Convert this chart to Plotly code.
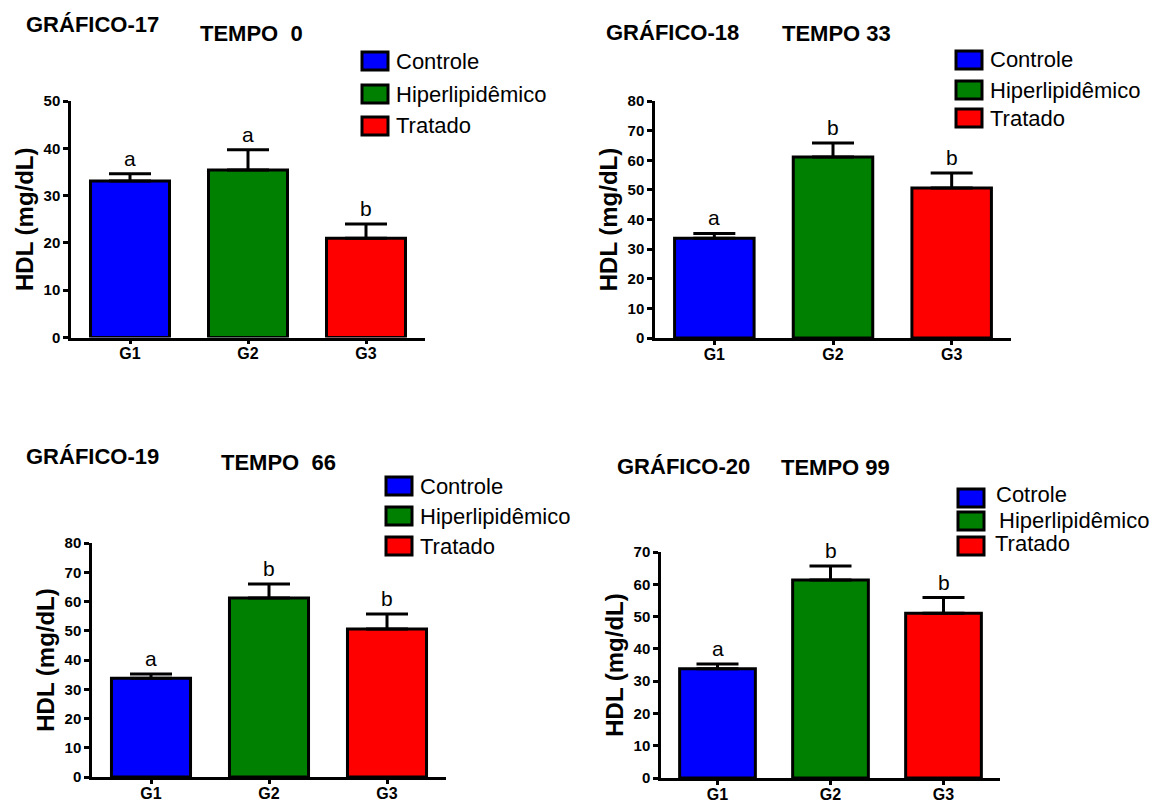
import plotly.graph_objects as go

# ---------------- data ----------------
groups = ["G1", "G2", "G3"]
legend_labels = ["Controle", "Hiperlipidêmico", "Tratado"]
legend_labels_t99 = ["Cotrole", "Hiperlipidêmico", "Tratado"]
bar_colors = ["#0000FF", "#008000", "#FF0000"]

graph_ids = ["GRÁFICO-17", "GRÁFICO-18", "GRÁFICO-19", "GRÁFICO-20"]
tempo_titles = ["TEMPO  0", "TEMPO 33", "TEMPO  66", "TEMPO 99"]

hdl_t0 = [33.1, 35.4, 21.0]
sem_t0 = [1.5, 4.3, 3.0]
letters_t0 = ["a", "a", "b"]

hdl_t33 = [33.7, 61.1, 50.6]
sem_t33 = [1.6, 4.7, 5.1]
letters_t33 = ["a", "b", "b"]

hdl_t66 = [33.8, 61.2, 50.6]
sem_t66 = [1.4, 4.8, 5.1]
letters_t66 = ["a", "b", "b"]

hdl_t99 = [33.8, 61.3, 51.0]
sem_t99 = [1.5, 4.4, 4.9]
letters_t99 = ["a", "b", "b"]

y_max = [50, 80, 80, 70]
y_title = "HDL (mg/dL)"

# ---------------- layout helpers ----------------
W, H = 1153, 803
FONT = "Liberation Sans, Arial, sans-serif"


def px(x):
    return x / W


def py(y):
    return 1 - y / H


values = [hdl_t0, hdl_t33, hdl_t66, hdl_t99]
sems = [sem_t0, sem_t33, sem_t66, sem_t99]
letters = [letters_t0, letters_t33, letters_t66, letters_t99]
legends = [legend_labels, legend_labels, legend_labels, legend_labels_t99]

# axis boxes in pixels: (x0, x1, ytop, ybottom)
boxes = [(71, 425, 101, 337.5), (655, 1011, 101, 338), (92, 446, 543, 777), (661, 1000, 552, 778)]
# title positions (x_left, y_center)
gid_pos = [(24, 24), (604, 32), (24, 456), (615, 466)]
tempo_pos = [(198, 34), (780, 34), (219, 462), (779, 467)]
# legend: box left x, box centers y, text x, text centers y
leg_box_x = [362, 956, 386, 958]
leg_box_y = [[61, 94, 126], [60, 90, 118], [486, 516, 546], [498, 521, 546]]
leg_txt_x = [[394, 394, 394], [988, 988, 988], [418, 418, 418], [994, 997, 993]]
leg_txt_y = [[62, 94, 126], [60, 90, 118], [486, 516, 546], [494, 520, 543]]

fig = go.Figure()
layout = dict(
    width=W, height=H, margin=dict(l=0, r=0, t=0, b=0),
    paper_bgcolor="white", plot_bgcolor="white",
    font=dict(family=FONT, color="black"),
    showlegend=False, barmode="overlay",
)
annotations = []
shapes = []

for i in range(4):
    n = "" if i == 0 else str(i + 1)
    xa, ya = "x" + n, "y" + n
    x0, x1, yt, yb = boxes[i]
    fig.add_trace(go.Bar(
        x=groups, y=values[i], xaxis=xa, yaxis=ya,
        width=0.67,
        marker=dict(color=bar_colors, line=dict(color="black", width=3)),
        error_y=dict(type="data", array=sems[i], arrayminus=[0, 0, 0], symmetric=False,
                     color="black", thickness=3, width=21),
        name=tempo_titles[i], showlegend=False,
    ))
    layout["xaxis" + n] = dict(
        domain=[px(x0), px(x1)], anchor=ya, range=[-0.5, 2.5],
        showline=True, linecolor="black", linewidth=2.5,
        ticks="outside", ticklen=4, tickwidth=2.5, tickcolor="black",
        ticklabelstandoff=-4,
        tickfont=dict(family=FONT, size=16, color="black", weight="bold"),
        showgrid=False, zeroline=False, automargin=False, fixedrange=True,
    )
    layout["yaxis" + n] = dict(
        domain=[py(yb), py(yt)], anchor=xa, range=[0, y_max[i]], dtick=10, tick0=0,
        showline=True, linecolor="black", linewidth=2.5,
        ticks="outside", ticklen=5, tickwidth=2.5, tickcolor="black",
        tickfont=dict(family=FONT, size=15, color="black", weight="bold"),
        showgrid=False, zeroline=False, automargin=False, fixedrange=True,
        title=dict(text=y_title, font=dict(family=FONT, size=24, color="black", weight="bold"),
                   standoff=4),
    )
    # significance letters
    for g, v, s, l in zip(groups, values[i], sems[i], letters[i]):
        annotations.append(dict(
            x=g, y=v + s, xref=xa, yref=ya, text=l, showarrow=False,
            yanchor="bottom", xanchor="center", yshift=2,
            font=dict(family=FONT, size=21, color="black"),
        ))
    # titles
    annotations.append(dict(
        x=px(gid_pos[i][0]), y=py(gid_pos[i][1]), xref="paper", yref="paper",
        text=graph_ids[i], showarrow=False, xanchor="left", yanchor="middle",
        font=dict(family=FONT, size=22, color="black", weight="bold"),
    ))
    annotations.append(dict(
        x=px(tempo_pos[i][0]), y=py(tempo_pos[i][1]), xref="paper", yref="paper",
        text=tempo_titles[i], showarrow=False, xanchor="left", yanchor="middle",
        font=dict(family=FONT, size=22, color="black", weight="bold"),
    ))
    # legend
    for k in range(3):
        bx = leg_box_x[i]
        by = leg_box_y[i][k]
        shapes.append(dict(
            type="rect", xref="paper", yref="paper",
            x0=px(bx), x1=px(bx + 26), y0=py(by + 9), y1=py(by - 9),
            fillcolor=bar_colors[k], line=dict(color="black", width=3),
        ))
        annotations.append(dict(
            x=px(leg_txt_x[i][k]), y=py(leg_txt_y[i][k]), xref="paper", yref="paper",
            text=legends[i][k], showarrow=False, xanchor="left", yanchor="middle",
            font=dict(family=FONT, size=22, color="black"),
        ))

layout["annotations"] = annotations
layout["shapes"] = shapes
fig.update_layout(**layout)
fig.write_html(
    "out.html",
    config={"displayModeBar": False},
    post_script="document.body.style.margin='0';document.body.style.padding='0';"
                "document.documentElement.style.overflow='hidden';",
)
